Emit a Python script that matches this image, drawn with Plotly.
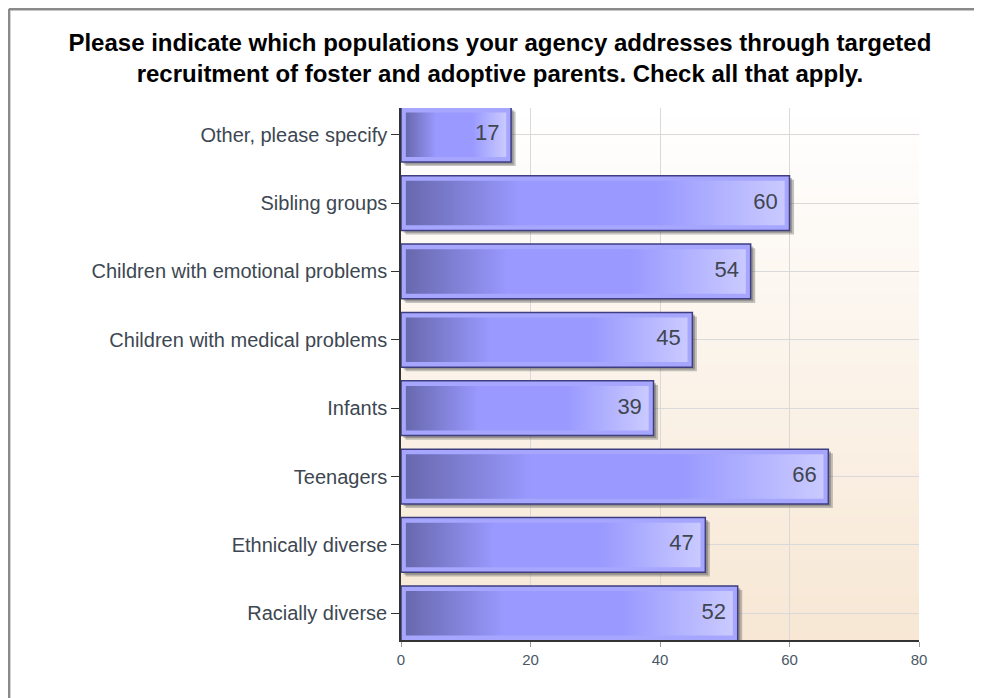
import plotly.graph_objects as go

# Data (bottom to top)
categories = ["Racially diverse", "Ethnically diverse", "Teenagers", "Infants",
              "Children with medical problems", "Children with emotional problems",
              "Sibling groups", "Other, please specify"]
values = [52, 47, 66, 39, 45, 54, 60, 17]
x_ticks = [0, 20, 40, 60, 80]

positions = list(range(len(categories)))
BAR_W = 0.8

fig = go.Figure()

# background gradient strips (plot area, domain coords)
n_strips = 60
top_c = (255, 255, 255)
bot_c = (247, 231, 212)
shapes = []
for k in range(n_strips):
    t = (k + 0.5) / n_strips
    c = tuple(int(round(top_c[j] + (bot_c[j] - top_c[j]) * (1 - t))) for j in range(3))
    shapes.append(dict(type="rect", xref="x domain", yref="y domain",
                       x0=0, x1=1, y0=k / n_strips, y1=(k + 1) / n_strips + 0.002,
                       fillcolor="rgb(%d,%d,%d)" % c, line=dict(width=0), layer="below"))

# outer frame (top and left)
shapes.append(dict(type="line", xref="paper", yref="paper", x0=-0.757, x1=1.5, y0=1.186, y1=1.186,
                   line=dict(color="#8a8a8a", width=3)))
shapes.append(dict(type="line", xref="paper", yref="paper", x0=-0.757, x1=-0.757, y0=1.186, y1=-0.3,
                   line=dict(color="#8a8a8a", width=3)))

# shadows
fig.add_trace(go.Bar(y=positions, x=values, base=0.7, orientation="h", width=BAR_W,
                     offset=-BAR_W / 2 - 0.06,
                     marker=dict(color="rgba(90,90,90,0.35)", line=dict(width=0)),
                     hoverinfo="skip", showlegend=False))
fig.add_trace(go.Bar(y=positions, x=values, base=0.4, orientation="h", width=BAR_W,
                     offset=-BAR_W / 2 - 0.035,
                     marker=dict(color="rgba(70,70,70,0.35)", line=dict(width=0)),
                     hoverinfo="skip", showlegend=False))

# main bars
fig.add_trace(go.Bar(y=positions, x=values, orientation="h", width=BAR_W,
                     marker=dict(color="#A6A6FF", line=dict(color="#3E3E80", width=1.5)),
                     hovertemplate="%{x}<extra></extra>", showlegend=False))

# inner gradient fill of each bar
inset_x = 0.75
inset_y = 0.075
for p, v in zip(positions, values):
    x0, x1 = inset_x, v - inset_x
    y0, y1 = p - BAR_W / 2 + inset_y, p + BAR_W / 2 - inset_y
    fig.add_trace(go.Scatter(
        x=[x0, x1, x1, x0, x0], y=[y0, y0, y1, y1, y0],
        mode="lines", fill="toself", line=dict(width=0),
        fillgradient=dict(type="horizontal",
                          colorscale=[[0, "#6868AE"], [0.3, "#9999FF"], [0.66, "#9999FF"], [1, "#CACAFF"]]),
        hoverinfo="skip", showlegend=False))

# value labels
fig.add_trace(go.Scatter(x=[v - 1.8 for v in values], y=positions, mode="text",
                         text=[str(v) for v in values], textposition="middle left",
                         textfont=dict(family="Liberation Sans, Arial", size=22, color="#3f4650"),
                         hoverinfo="skip", showlegend=False))

fig.update_layout(
    width=974, height=690,
    margin=dict(l=393, r=63, t=100, b=58),
    paper_bgcolor="white", plot_bgcolor="rgba(0,0,0,0)",
    barmode="overlay",
    shapes=shapes,
    title=dict(text="<b>Please indicate which populations your agency addresses through targeted<br>"
                    "recruitment of foster and adoptive parents. Check all that apply.</b>",
               x=0.505, xanchor="center", y=0.938, yanchor="middle",
               font=dict(family="Liberation Sans, Arial", size=24, color="#000000")),
    font=dict(family="Liberation Sans, Arial"),
)

fig.update_xaxes(range=[0, 80], tickvals=x_ticks, ticktext=[str(t) for t in x_ticks],
                 showgrid=True, gridcolor="#d9d9d9", gridwidth=1, zeroline=False,
                 showline=True, linecolor="#333333", linewidth=1.5,
                 ticks="outside", ticklen=5, tickcolor="#999999",
                 tickfont=dict(size=15, color="#4a5866"))
fig.update_yaxes(range=[-0.39, 7.39], tickvals=positions, ticktext=categories,
                 showgrid=True, gridcolor="#d9d9d9", gridwidth=1, zeroline=False,
                 showline=True, linecolor="#333333", linewidth=1.5,
                 ticks="outside", ticklen=8, tickcolor="#333333",
                 tickfont=dict(size=20, color="#3d4752"))

fig.write_html("out.html")
